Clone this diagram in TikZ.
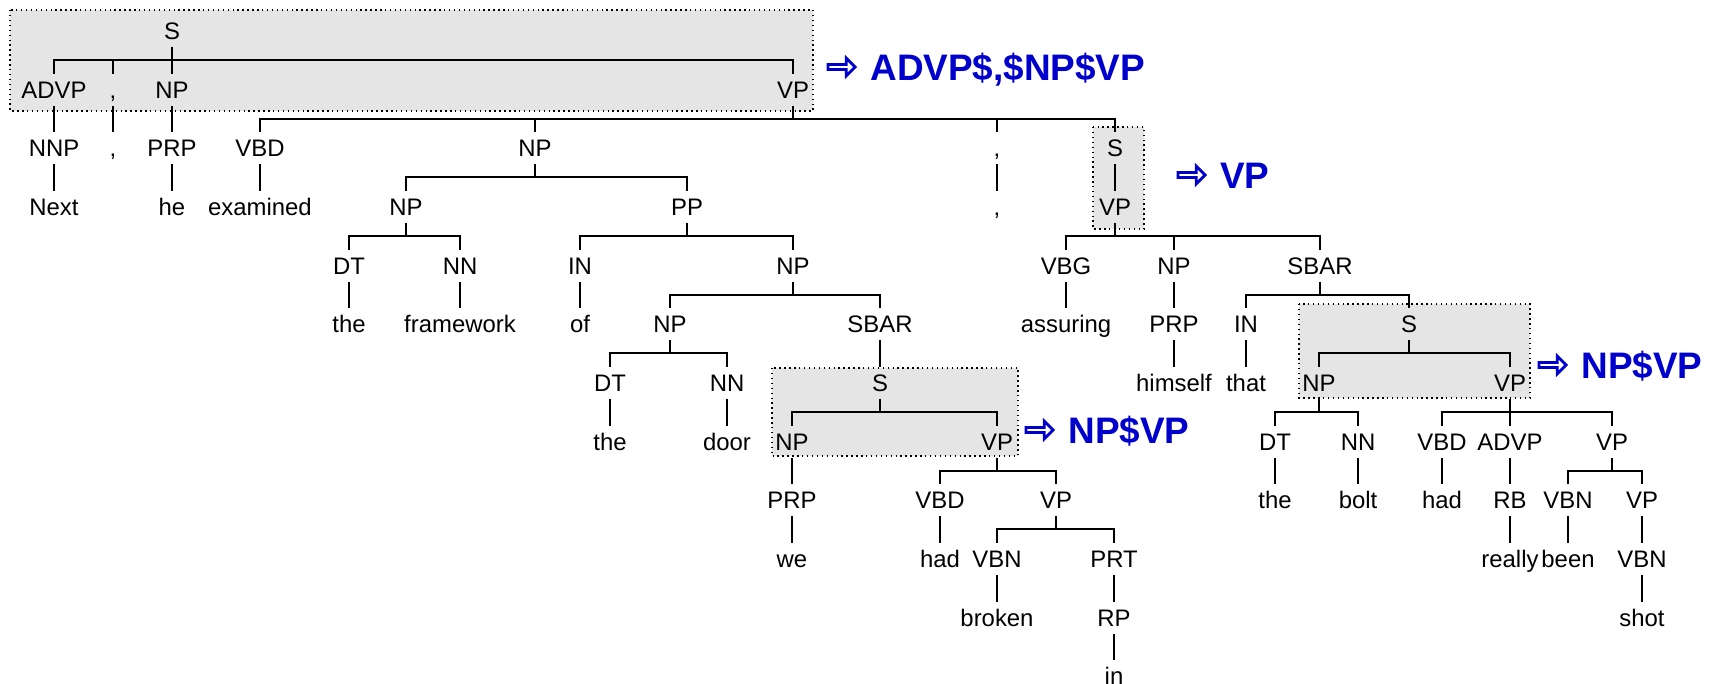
\documentclass[tikz,border=0pt]{standalone}
\usepackage{fontspec}
\setmainfont{Liberation Sans}
\usepackage{xcolor}
\usepackage{tikz}
\usetikzlibrary{positioning,shapes.arrows}
\definecolor{rulecol}{HTML}{0000CC}

\begin{document}
\begin{tikzpicture}[
      x=0.02cm, y=-0.02cm,
      every node/.style={font=\fontsize{13.6}{16}\selectfont},
      tnode/.style={inner sep=0pt, outer xsep=0pt, outer ysep=4pt,
                    text height=10pt, text depth=0pt},
      branch/.style={line width=0.04cm},
      subtree/.style={draw, dotted, line width=0.8pt, fill=black!10},
      rewrite/.style={anchor=west, inner sep=0pt, text=rulecol,
                      text height=15pt, text depth=0pt,
                      font=\fontsize{21}{25}\selectfont\bfseries},
      rarrow/.style={single arrow, draw=rulecol, line width=0.055cm, inner sep=0pt,
                     minimum height=0.54cm, minimum width=0.35cm,
                     single arrow head extend=0.07cm, left=0.26cm of #1}
  ]
    \useasboundingbox (0,0) rectangle (1717,683);

    % --- shaded subtrees ---
    \draw[subtree] (10,10) rectangle (813,111);
    \draw[subtree] (1093,127) rectangle (1144,229);
    \draw[subtree] (772,368) rectangle (1018,456);
    \draw[subtree] (1299,304) rectangle (1530,398);

    % --- row 1-2 ---
    \node[tnode] (s1) at (172,31) {S};
    \node[tnode] (advp1) at (54,90) {ADVP};
    \node[tnode] (cm1) at (113,90) {,};
    \node[tnode] (np1) at (172,90) {NP};
    \node[tnode] (vp1) at (793,90) {VP};

    % --- row 3 ---
    \node[tnode] (nnp1) at (54,148) {NNP};
    \node[tnode] (cm2) at (113,148) {,};
    \node[tnode] (prp1) at (172,148) {PRP};
    \node[tnode] (vbd1) at (260,148) {VBD};
    \node[tnode] (np2) at (535,148) {NP};
    \node[tnode] (cm3) at (997,148) {,};
    \node[tnode] (s2) at (1115,148) {S};

    % --- row 4 ---
    \node[tnode] (wnext) at (54,207) {Next};
    \node[tnode] (whe) at (172,207) {he};
    \node[tnode] (wexamined) at (260,207) {examined};
    \node[tnode] (np3) at (406,207) {NP};
    \node[tnode] (pp1) at (687,207) {PP};
    \node[tnode] (cm4) at (997,207) {,};
    \node[tnode] (vp2) at (1115,207) {VP};

    % --- row 5 ---
    \node[tnode] (dt1) at (349,266) {DT};
    \node[tnode] (nn1) at (460,266) {NN};
    \node[tnode] (in1) at (580,266) {IN};
    \node[tnode] (np4) at (793,266) {NP};
    \node[tnode] (vbg1) at (1066,266) {VBG};
    \node[tnode] (np5) at (1174,266) {NP};
    \node[tnode] (sbar2) at (1320,266) {SBAR};

    % --- row 6 ---
    \node[tnode] (wthe1) at (349,324) {the};
    \node[tnode] (wframework) at (460,324) {framework};
    \node[tnode] (wof) at (580,324) {of};
    \node[tnode] (np6) at (670,324) {NP};
    \node[tnode] (sbar1) at (880,324) {SBAR};
    \node[tnode] (wassuring) at (1066,324) {assuring};
    \node[tnode] (prp2) at (1174,324) {PRP};
    \node[tnode] (in2) at (1246,324) {IN};
    \node[tnode] (s4) at (1409,324) {S};

    % --- row 7 ---
    \node[tnode] (dt2) at (610,383) {DT};
    \node[tnode] (nn2) at (727,383) {NN};
    \node[tnode] (s3) at (880,383) {S};
    \node[tnode] (whimself) at (1174,383) {himself};
    \node[tnode] (wthat) at (1246,383) {that};
    \node[tnode] (np7) at (1319,383) {NP};
    \node[tnode] (vp3) at (1510,383) {VP};

    % --- row 8 ---
    \node[tnode] (wthe2) at (610,442) {the};
    \node[tnode] (wdoor) at (727,442) {door};
    \node[tnode] (np8) at (792,442) {NP};
    \node[tnode] (vp4) at (997,442) {VP};
    \node[tnode] (dt3) at (1275,442) {DT};
    \node[tnode] (nn3) at (1358,442) {NN};
    \node[tnode] (vbd2) at (1442,442) {VBD};
    \node[tnode] (advp2) at (1510,442) {ADVP};
    \node[tnode] (vp5) at (1612,442) {VP};

    % --- row 9 ---
    \node[tnode] (prp3) at (792,500) {PRP};
    \node[tnode] (vbd3) at (940,500) {VBD};
    \node[tnode] (vp6) at (1056,500) {VP};
    \node[tnode] (wthe3) at (1275,500) {the};
    \node[tnode] (wbolt) at (1358,500) {bolt};
    \node[tnode] (whad1) at (1442,500) {had};
    \node[tnode] (rb1) at (1510,500) {RB};
    \node[tnode] (vbn1) at (1568,500) {VBN};
    \node[tnode] (vp7) at (1642,500) {VP};

    % --- row 10-12 ---
    \node[tnode] (wwe) at (792,559) {we};
    \node[tnode] (whad2) at (940,559) {had};
    \node[tnode] (vbn2) at (997,559) {VBN};
    \node[tnode] (prt1) at (1114,559) {PRT};
    \node[tnode] (wreally) at (1510,559) {really};
    \node[tnode] (wbeen) at (1568,559) {been};
    \node[tnode] (vbn3) at (1642,559) {VBN};
    \node[tnode] (wbroken) at (997,618) {broken};
    \node[tnode] (rp1) at (1114,618) {RP};
    \node[tnode] (wshot) at (1642,618) {shot};
    \node[tnode] (win) at (1114,676) {in};

    % --- branches: parent/child ---
    \foreach \p/\c in {s1/advp1, s1/cm1, s1/np1, s1/vp1,
                       advp1/nnp1, nnp1/wnext, cm1/cm2, np1/prp1, prp1/whe,
                       vp1/vbd1, vp1/np2, vp1/cm3, vp1/s2, vbd1/wexamined,
                       np2/np3, np2/pp1, np3/dt1, np3/nn1, dt1/wthe1, nn1/wframework,
                       pp1/in1, pp1/np4, in1/wof, np4/np6, np4/sbar1,
                       np6/dt2, np6/nn2, dt2/wthe2, nn2/wdoor, sbar1/s3,
                       s3/np8, s3/vp4, np8/prp3, prp3/wwe,
                       vp4/vbd3, vp4/vp6, vbd3/whad2, vp6/vbn2, vp6/prt1,
                       vbn2/wbroken, prt1/rp1, rp1/win,
                       cm3/cm4, s2/vp2, vp2/vbg1, vp2/np5, vp2/sbar2,
                       vbg1/wassuring, np5/prp2, prp2/whimself,
                       sbar2/in2, sbar2/s4, in2/wthat, s4/np7, s4/vp3,
                       np7/dt3, np7/nn3, dt3/wthe3, nn3/wbolt,
                       vp3/vbd2, vp3/advp2, vp3/vp5, vbd2/whad1,
                       advp2/rb1, rb1/wreally, vp5/vbn1, vp5/vp7,
                       vbn1/wbeen, vp7/vbn3, vbn3/wshot} {
      \draw[branch] (\p.south) -- ++(0,13.5) -| (\c.north);
    }

    % --- rewrites ---
    \node[rewrite] (r1) at (870,67) {ADVP\$,\$NP\$VP};
    \node[rewrite] (r2) at (1220,175) {VP};
    \node[rewrite] (r3) at (1068,430) {NP\$VP};
    \node[rewrite] (r4) at (1581,365) {NP\$VP};
    \node[rarrow=r1] (a1) {};
    \node[rarrow=r2] (a2) {};
    \node[rarrow=r3] (a3) {};
    \node[rarrow=r4] (a4) {};

  \end{tikzpicture}
\end{document}
